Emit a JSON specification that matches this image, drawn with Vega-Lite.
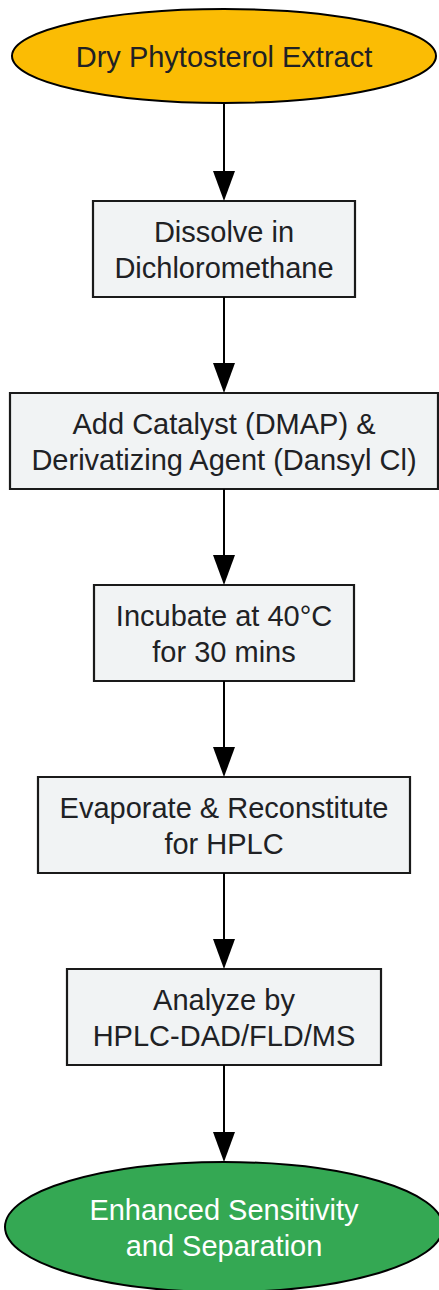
{
  "$schema": "https://vega.github.io/schema/vega-lite/v6.json",
  "width": 439,
  "height": 1290,
  "padding": 0,
  "autosize": {"type": "none"},
  "background": "#ffffff",
  "config": {"view": {"stroke": null}},
  "datasets": {
    "nodes": [
      {"id": "start", "kind": "start", "lines": 1, "label": "Dry Phytosterol Extract", "cx": 224, "cy": 56, "x0": 12, "x1": 436, "y0": 9, "y1": 103},
      {"id": "dissolve", "kind": "step", "lines": 2, "label": "Dissolve in\nDichloromethane", "cx": 224, "cy": 249, "x0": 93, "x1": 355, "y0": 201, "y1": 297},
      {"id": "add", "kind": "step", "lines": 2, "label": "Add Catalyst (DMAP) &\nDerivatizing Agent (Dansyl Cl)", "cx": 224, "cy": 441, "x0": 10, "x1": 438, "y0": 393, "y1": 489},
      {"id": "incubate", "kind": "step", "lines": 2, "label": "Incubate at 40°C\nfor 30 mins", "cx": 224, "cy": 633, "x0": 94, "x1": 354, "y0": 585, "y1": 681},
      {"id": "evaporate", "kind": "step", "lines": 2, "label": "Evaporate & Reconstitute\nfor HPLC", "cx": 224, "cy": 825, "x0": 38, "x1": 410, "y0": 777, "y1": 873},
      {"id": "analyze", "kind": "step", "lines": 2, "label": "Analyze by\nHPLC-DAD/FLD/MS", "cx": 224, "cy": 1017, "x0": 67, "x1": 381, "y0": 969, "y1": 1065},
      {"id": "end", "kind": "end", "lines": 2, "label": "Enhanced Sensitivity\nand Separation", "cx": 224, "cy": 1227, "x0": 5, "x1": 443, "y0": 1162, "y1": 1292}
    ],
    "edges": [
      {"from": "start", "to": "dissolve", "x": 224, "y_from": 103, "y_to": 201},
      {"from": "dissolve", "to": "add", "x": 224, "y_from": 297, "y_to": 393},
      {"from": "add", "to": "incubate", "x": 224, "y_from": 489, "y_to": 585},
      {"from": "incubate", "to": "evaporate", "x": 224, "y_from": 681, "y_to": 777},
      {"from": "evaporate", "to": "analyze", "x": 224, "y_from": 873, "y_to": 969},
      {"from": "analyze", "to": "end", "x": 224, "y_from": 1065, "y_to": 1162}
    ]
  },
  "layer": [
    {
      "data": {"name": "nodes"},
      "transform": [{"filter": "datum.kind === 'step'"}],
      "mark": {"type": "rect", "fill": "#F1F3F4", "stroke": "#1a1a1a", "strokeWidth": 2.2},
      "encoding": {
        "x": {"field": "x0", "type": "quantitative", "scale": {"domain": [0, 439], "nice": false, "zero": false}, "axis": null},
        "x2": {"field": "x1"},
        "y": {"field": "y0", "type": "quantitative", "scale": {"domain": [0, 1290], "nice": false, "zero": false, "reverse": true}, "axis": null},
        "y2": {"field": "y1"}
      }
    },
    {
      "data": {"name": "nodes"},
      "transform": [{"filter": "datum.kind === 'start'"}],
      "mark": {"type": "point", "shape": "M -1 0 A 1 0.2217 0 1 1 1 0 A 1 0.2217 0 1 1 -1 0 Z", "size": 179776, "filled": true, "fill": "#FBBC04", "stroke": "#000000", "strokeWidth": 2, "opacity": 1},
      "encoding": {
        "x": {"field": "cx", "type": "quantitative", "axis": null},
        "y": {"field": "cy", "type": "quantitative", "axis": null}
      }
    },
    {
      "data": {"name": "nodes"},
      "transform": [{"filter": "datum.kind === 'end'"}],
      "mark": {"type": "point", "shape": "M -1 0 A 1 0.2968 0 1 1 1 0 A 1 0.2968 0 1 1 -1 0 Z", "size": 191844, "filled": true, "fill": "#34A853", "stroke": "#000000", "strokeWidth": 2, "opacity": 1},
      "encoding": {
        "x": {"field": "cx", "type": "quantitative", "axis": null},
        "y": {"field": "cy", "type": "quantitative", "axis": null}
      }
    },
    {
      "data": {"name": "edges"},
      "mark": {"type": "rule", "color": "#000000", "strokeWidth": 2, "y2Offset": -26},
      "encoding": {
        "x": {"field": "x", "type": "quantitative", "axis": null},
        "y": {"field": "y_from", "type": "quantitative", "axis": null},
        "y2": {"field": "y_to"}
      }
    },
    {
      "data": {"name": "edges"},
      "mark": {"type": "point", "shape": "M -1 -2.727 L 1 -2.727 L 0 0 Z", "size": 484, "filled": true, "color": "#000000", "opacity": 1, "strokeWidth": 0},
      "encoding": {
        "x": {"field": "x", "type": "quantitative", "axis": null},
        "y": {"field": "y_to", "type": "quantitative", "axis": null}
      }
    },
    {
      "data": {"name": "nodes"},
      "transform": [{"filter": "datum.lines === 1"}],
      "mark": {"type": "text", "font": "Liberation Sans", "fontSize": 29, "align": "center", "baseline": "middle", "dy": 2},
      "encoding": {
        "x": {"field": "cx", "type": "quantitative", "axis": null},
        "y": {"field": "cy", "type": "quantitative", "axis": null},
        "text": {"field": "label"},
        "color": {"field": "kind", "type": "nominal", "scale": {"domain": ["start", "step", "end"], "range": ["#202124", "#202124", "#FFFFFF"]}, "legend": null}
      }
    },
    {
      "data": {"name": "nodes"},
      "transform": [{"filter": "datum.lines === 2"}],
      "mark": {"type": "text", "font": "Liberation Sans", "fontSize": 29, "lineHeight": 36, "lineBreak": "\n", "align": "center", "baseline": "middle", "dy": -16},
      "encoding": {
        "x": {"field": "cx", "type": "quantitative", "axis": null},
        "y": {"field": "cy", "type": "quantitative", "axis": null},
        "text": {"field": "label"},
        "color": {"field": "kind", "type": "nominal", "scale": {"domain": ["start", "step", "end"], "range": ["#202124", "#202124", "#FFFFFF"]}, "legend": null}
      }
    }
  ]
}
